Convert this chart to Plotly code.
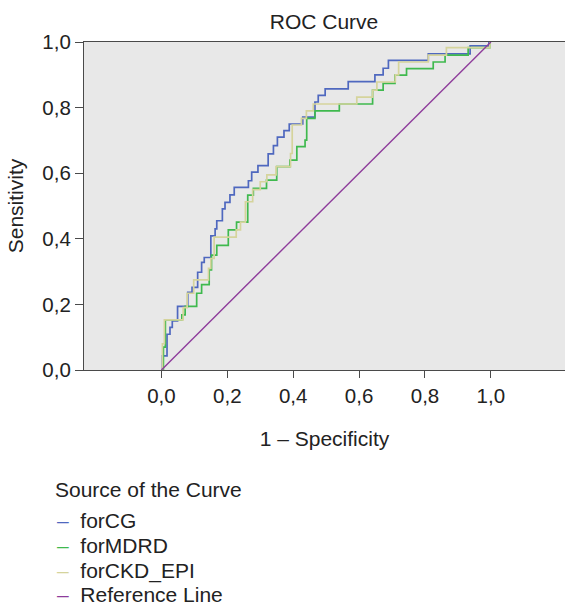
import plotly.graph_objects as go

# ---------------- data ----------------
series_names = ["forCG", "forMDRD", "forCKD_EPI", "Reference Line"]
series_colors = ["#4f68bf", "#3fb94e", "#d5d49c", "#8e3c9b"]

cg_fpr = [0, 0.003, 0.017, 0.026, 0.033, 0.049, 0.080, 0.093, 0.110, 0.122,
          0.130, 0.150, 0.163, 0.168, 0.185, 0.193, 0.208, 0.221, 0.264, 0.274,
          0.293, 0.324, 0.340, 0.352, 0.372, 0.388, 0.429, 0.466, 0.476, 0.497,
          0.567, 0.648, 0.673, 0.689, 0.810, 0.937, 0.994, 1.0]
cg_tpr = [0, 0.043, 0.109, 0.130, 0.150, 0.194, 0.237, 0.252, 0.298, 0.328,
          0.343, 0.409, 0.430, 0.455, 0.491, 0.511, 0.534, 0.557, 0.577, 0.603,
          0.623, 0.659, 0.684, 0.710, 0.730, 0.750, 0.771, 0.817, 0.837, 0.857,
          0.879, 0.900, 0.920, 0.944, 0.964, 0.988, 1.0, 1.0]

mdrd_fpr = [0, 0.006, 0.012, 0.062, 0.072, 0.107, 0.122, 0.145, 0.152, 0.168,
            0.203, 0.228, 0.262, 0.279, 0.319, 0.350, 0.390, 0.411, 0.436, 0.441,
            0.466, 0.540, 0.641, 0.673, 0.709, 0.744, 0.825, 0.861, 0.931, 0.997, 1.0]
mdrd_tpr = [0, 0.070, 0.153, 0.168, 0.194, 0.234, 0.260, 0.305, 0.350, 0.380,
            0.427, 0.451, 0.533, 0.554, 0.579, 0.620, 0.640, 0.681, 0.701, 0.767,
            0.790, 0.811, 0.853, 0.874, 0.899, 0.919, 0.939, 0.960, 0.983, 1.0, 1.0]

ckd_fpr = [0, 0.003, 0.009, 0.066, 0.078, 0.098, 0.143, 0.150, 0.160, 0.227,
           0.240, 0.255, 0.277, 0.300, 0.320, 0.348, 0.392, 0.397, 0.425, 0.440,
           0.461, 0.593, 0.641, 0.654, 0.710, 0.720, 0.810, 0.865, 0.997, 1.0]
ckd_tpr = [0, 0.080, 0.153, 0.190, 0.234, 0.275, 0.310, 0.340, 0.405, 0.427,
           0.451, 0.513, 0.550, 0.574, 0.595, 0.620, 0.660, 0.747, 0.767, 0.790,
           0.811, 0.832, 0.853, 0.878, 0.900, 0.939, 0.960, 0.983, 1.0, 1.0]

ref_x = [0, 1]
ref_y = [0, 1]

tick_vals = [0, 0.2, 0.4, 0.6, 0.8, 1.0]
tick_text = ["0,0", "0,2", "0,4", "0,6", "0,8", "1,0"]

# ---------------- figure ----------------
FONT = "Liberation Sans, Arial, Helvetica, sans-serif"
TXT = "#222222"
AX = "#4a4a4a"
FS = 21

fig = go.Figure()
curves = [(cg_fpr, cg_tpr), (mdrd_fpr, mdrd_tpr), (ckd_fpr, ckd_tpr)]
for (xs, ys), name, col in zip(curves, series_names[:3], series_colors[:3]):
    fig.add_trace(go.Scatter(x=xs, y=ys, mode="lines", name=name,
                             line=dict(color=col, width=1.7, shape="hv"),
                             showlegend=False))
fig.add_trace(go.Scatter(x=ref_x, y=ref_y, mode="lines", name=series_names[3],
                         line=dict(color=series_colors[3], width=1.4),
                         showlegend=False))

W, H = 565, 607
ML, MT, MB = 84, 42, 237
plot_h = H - MT - MB

def py_to_paper(py):
    return (H - MB - py) / plot_h

def px_to_paper(px):
    return (px - ML) / (W - ML)

annotations = [dict(text="Source of the Curve", x=px_to_paper(54), y=py_to_paper(490),
                    xref="paper", yref="paper", xanchor="left", yanchor="middle",
                    showarrow=False, borderpad=0,
                    font=dict(size=FS, color=TXT, family=FONT))]
legend_rows = [520, 545.5, 570.5, 594.5]
for name, col, yy in zip(series_names, series_colors, legend_rows):
    annotations.append(dict(
        text=f"<span style='color:{col}'>–</span>&nbsp; {name}",
        x=px_to_paper(56), y=py_to_paper(yy), xref="paper", yref="paper",
        xanchor="left", yanchor="middle", showarrow=False, borderpad=0,
        font=dict(size=FS, color=TXT, family=FONT)))

fig.update_layout(
    width=W, height=H,
    margin=dict(l=ML, r=0, t=MT, b=MB, pad=0),
    paper_bgcolor="white",
    plot_bgcolor="#e8e8e8",
    font=dict(family=FONT, size=FS, color=TXT),
    title=dict(text="ROC Curve", x=px_to_paper(324), xref="paper", xanchor="center",
               y=1 - 22 / H, yref="container", yanchor="middle",
               font=dict(size=FS, color=TXT, family=FONT)),
    xaxis=dict(range=[-0.235, 1.225], tickvals=tick_vals, ticktext=tick_text,
               showgrid=False, zeroline=False, showline=True, linecolor=AX,
               linewidth=1.2, mirror=True, ticks="outside", ticklen=7,
               tickcolor=AX, tickfont=dict(size=20.5, color=TXT),
               title=dict(text="1 – Specificity", standoff=25,
                          font=dict(size=FS, color=TXT))),
    yaxis=dict(range=[0, 1], tickvals=tick_vals, ticktext=tick_text,
               showgrid=False, zeroline=False, showline=True, linecolor=AX,
               linewidth=1.2, ticks="outside", ticklen=8, tickcolor=AX,
               tickfont=dict(size=20.5, color=TXT),
               title=dict(text="Sensitivity", standoff=12,
                          font=dict(size=FS, color=TXT))),
    annotations=annotations,
)

fig.write_html("out.html", config={"displayModeBar": False},
               post_script="document.body.style.margin='0';")
